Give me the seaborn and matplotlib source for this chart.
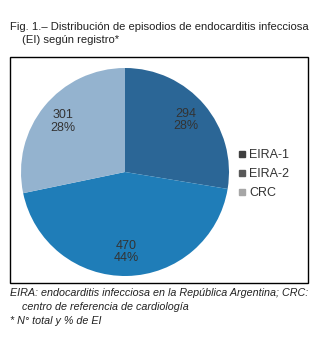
import matplotlib
matplotlib.use("Agg")
import matplotlib.pyplot as plt
import seaborn as sns
import numpy as np
from matplotlib.lines import Line2D
from matplotlib.patches import Rectangle

categories = ["EIRA-1", "EIRA-2", "CRC"]
values = [294, 470, 301]
pct_labels = ["28%", "44%", "28%"]
slice_colors = ["#2b6696", "#1f7db8", "#94b3cf"]
legend_colors = ["#404040", "#595959", "#a6a6a6"]

sns.set_theme(style="white")
plt.rcParams['font.family'] = ['Liberation Sans', 'DejaVu Sans']

W, H = 321, 341
fig = plt.figure(figsize=(W / 100, H / 100), dpi=100)
fig.patch.set_facecolor("white")

def fx(px):
    return px / W

def fy(py):
    return 1 - py / H

# outer frame
fig.patches.append(Rectangle((fx(10), fy(283)), fx(308) - fx(10), fy(57) - fy(283),
                             transform=fig.transFigure, fill=False, edgecolor="black",
                             linewidth=1.0))

# title
fig.text(fx(10), fy(27), "Fig. 1.\u2013 Distribución de episodios de endocarditis infecciosa",
         fontsize=8.1, color="#222222", va="center", ha="left")
fig.text(fx(22), fy(40), "(EI) según registro*",
         fontsize=8.1, color="#222222", va="center", ha="left")

# pie axes
cx, cy, r = 125, 172, 104
ax = fig.add_axes([fx(cx - r), fy(cy + r), (2 * r) / W, (2 * r) / H])
total = sum(values)
wedges, texts = ax.pie(values, colors=slice_colors, startangle=90, counterclock=False,
                       radius=1.0, wedgeprops=dict(linewidth=0))
theta = 90.0
for v, pl in zip(values, pct_labels):
    span = 360.0 * v / total
    mid = np.deg2rad(theta - span / 2)
    theta -= span
    d = 0.77
    ax.text(d * np.cos(mid), d * np.sin(mid), f"{v}\n{pl}", ha="center", va="center",
            fontsize=9, color="#333333", linespacing=1.05)
ax.set_xlim(-1, 1)
ax.set_ylim(-1, 1)
ax.set_aspect("equal")
ax.axis("off")

handles = [Line2D([0], [0], marker="s", linestyle="", markersize=5,
                  markerfacecolor=c, markeredgecolor=c) for c in legend_colors]
fig.legend(handles, categories, loc="center left",
           bbox_to_anchor=(fx(232), fy(174)), frameon=False, fontsize=9,
           handlelength=0.6, handletextpad=0.3, labelspacing=0.55, borderpad=0,
           labelcolor="#333333")

# footnote
fig.text(fx(10), fy(293), "EIRA: endocarditis infecciosa en la República Argentina; CRC:",
         fontsize=7.75, style="italic", color="#222222", va="center", ha="left")
fig.text(fx(22), fy(307), "centro de referencia de cardiología",
         fontsize=7.75, style="italic", color="#222222", va="center", ha="left")
fig.text(fx(10), fy(321), "* N° total y % de EI",
         fontsize=7.75, style="italic", color="#222222", va="center", ha="left")

fig.savefig("out.png", dpi=100)
